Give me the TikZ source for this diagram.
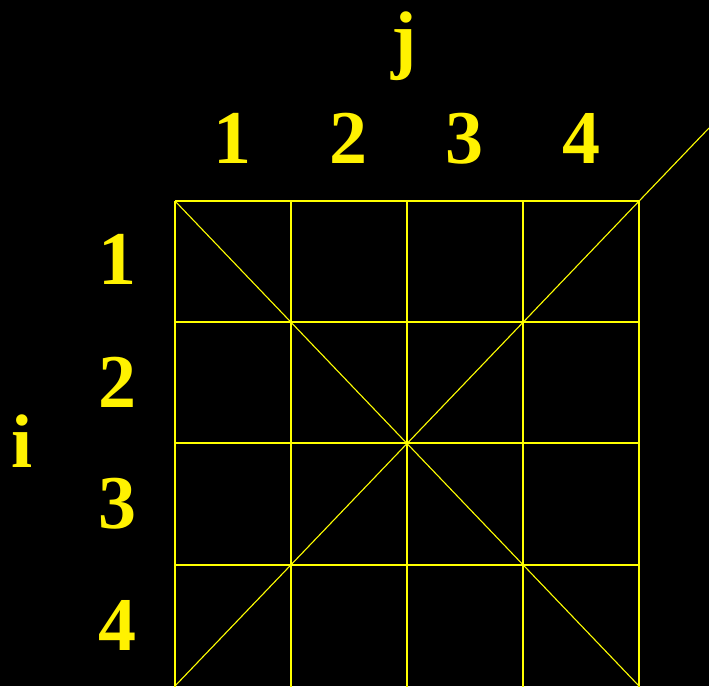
\documentclass[tikz,border=0pt]{standalone}
\usepackage{fontspec}
\setmainfont{Liberation Serif}
\begin{document}
\begin{tikzpicture}[x=1pt,y=-1pt,
  gridline/.style={draw={rgb,255:red,255;green,255;blue,0},line width=1.1pt},
  lab/.style={text=yellow,font=\fontsize{76}{80}\selectfont\bfseries,anchor=base,inner sep=0pt}]
\fill[black] (0,0) rectangle (709,686);
\useasboundingbox (0,0) rectangle (709,686);
% grid corners
\coordinate (tl) at (175,201);
\coordinate (tr) at (639,201);
\coordinate (bl) at (175,686);
\coordinate (br) at (639,686);
\coordinate (ext) at (709,128);
\foreach \x in {175,291,407,523,639} \draw[gridline] (\x,201) -- (\x,690);
\foreach \y in {201,322,443,565} \draw[gridline] (175,\y) -- (639,\y);
\draw[gridline] (tl) -- (br);
\draw[gridline] (bl) -- (ext);
% labels
\node[lab] (j) at (404,64) {j};
\node[lab] (c1) at (232,163) {1};
\node[lab] (c2) at (348,163) {2};
\node[lab] (c3) at (464,163) {3};
\node[lab] (c4) at (581,163) {4};
\node[lab] (r1) at (117,284) {1};
\node[lab] (r2) at (117,407) {2};
\node[lab] (r3) at (117,528) {3};
\node[lab] (r4) at (117,650) {4};
\node[lab] (i) at (22,467) {i};
\end{tikzpicture}
\end{document}
